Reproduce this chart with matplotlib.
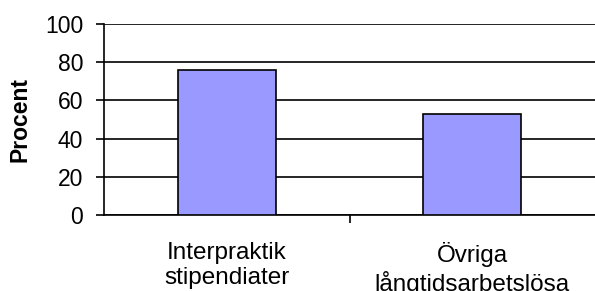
import matplotlib.pyplot as plt

plt.rcParams["font.family"] = ["Liberation Sans", "DejaVu Sans"]

categories = ["Interpraktik\nstipendiater", "Övriga\nlångtidsarbetslösa"]
procent = [76, 53]
yticks = [0, 20, 40, 60, 80, 100]

fig = plt.figure(figsize=(5.95, 2.91), dpi=100)
ax = fig.add_axes([104 / 595, 1 - 215 / 291, 1 - 104 / 595, (215 - 24) / 291])

x = range(len(categories))
ax.bar(x, procent, width=0.4, color="#9999ff", edgecolor="black", linewidth=1.2, zorder=3)

ax.set_xlim(-0.5, len(categories) - 0.5)
ax.set_ylim(0, 100)
ax.set_yticks(yticks)
ax.set_yticklabels([str(v) for v in yticks], fontsize=16.5)
ax.yaxis.grid(True, color="black", linewidth=1.2, zorder=0)
ax.tick_params(axis="y", length=6, width=1.2, direction="out", pad=9)

# category labels centred under bars, ticks between categories
ax.set_xticks([0.5])
ax.set_xticklabels([""])
ax.tick_params(axis="x", length=6, width=1.2, direction="out")
for i, lab in enumerate(categories):
    ax.text(i, -14, lab, ha="center", va="top", fontsize=17.5,
            linespacing=1.2, transform=ax.transData, clip_on=False)

for s in ["top", "right"]:
    ax.spines[s].set_visible(False)
ax.spines["left"].set_linewidth(1.2)
ax.spines["bottom"].set_linewidth(1.2)

ax.set_ylabel("Procent", fontsize=16.5, fontweight="bold")
ax.yaxis.set_label_coords(-0.147, 0.5)

fig.savefig("out.png", dpi=100)
